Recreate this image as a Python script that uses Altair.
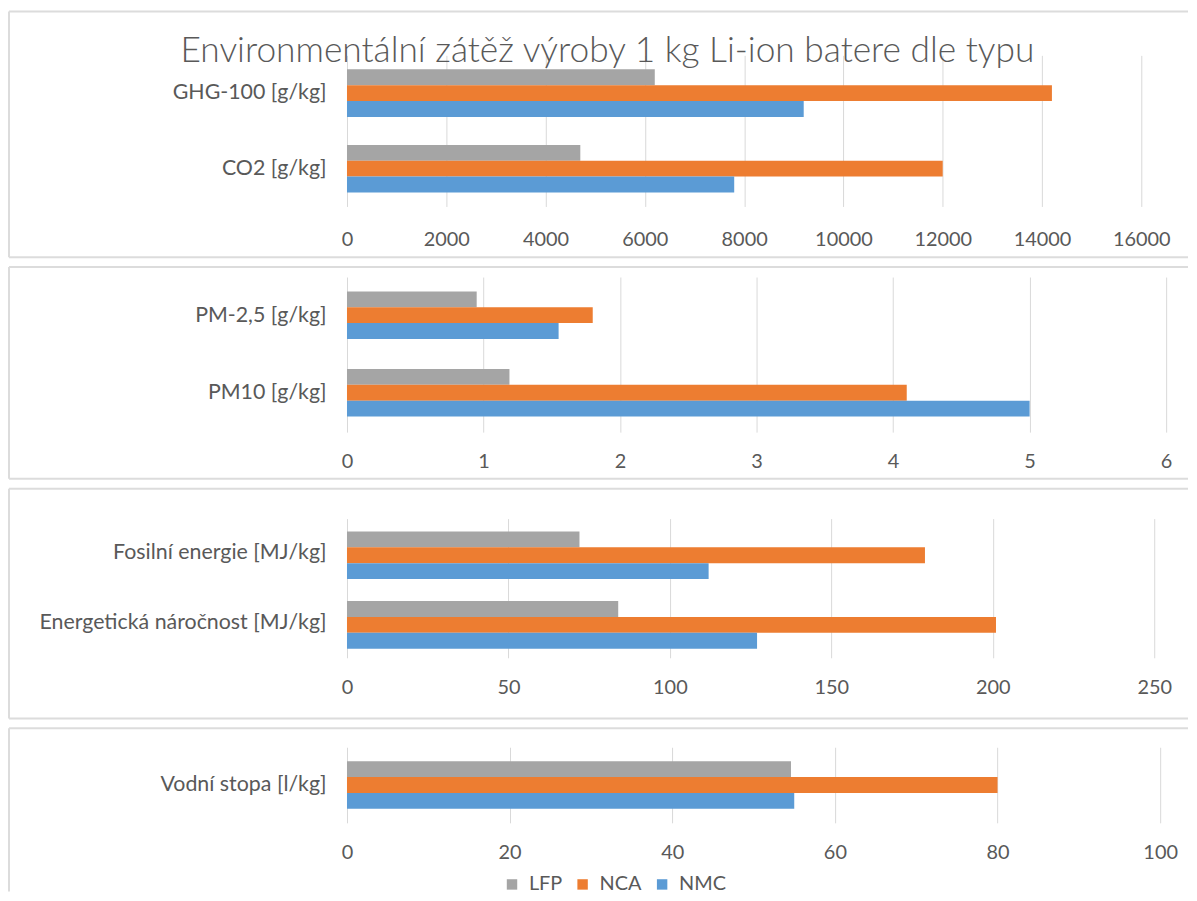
import altair as alt
import pandas as pd

series = ["LFP", "NCA", "NMC"]
colors = ["#A5A5A5", "#ED7D31", "#5B9BD5"]

cat1 = ["GHG-100 [g/kg]", "CO2 [g/kg]"]
lfp1 = [6200, 4700]
nca1 = [14200, 12000]
nmc1 = [9200, 7800]
ticks1 = [0, 2000, 4000, 6000, 8000, 10000, 12000, 14000, 16000]

cat2 = ["PM-2,5 [g/kg]", "PM10 [g/kg]"]
lfp2 = [0.95, 1.19]
nca2 = [1.8, 4.1]
nmc2 = [1.55, 5.0]
ticks2 = [0, 1, 2, 3, 4, 5, 6]

cat3 = ["Fosilní energie [MJ/kg]", "Energetická náročnost [MJ/kg]"]
lfp3 = [72, 84]
nca3 = [179, 201]
nmc3 = [112, 127]
ticks3 = [0, 50, 100, 150, 200, 250]

cat4 = ["Vodní stopa [l/kg]"]
lfp4 = [54.6]
nca4 = [80]
nmc4 = [55]
ticks4 = [0, 20, 40, 60, 80, 100]

title_text = "Environmentální zátěž výroby 1 kg  Li-ion batere dle typu"

TEXT = "#595959"
FRAME = "#dcdcdc"
FONT = "Lato"
LEFT = -340


def frame_layers(left, top, bottom, right, draw_bottom=True):
    one = pd.DataFrame({"k": [0]})
    base = alt.Chart(one).mark_rule(color=FRAME, strokeWidth=2)
    layers = [
        base.encode(x=alt.value(left), x2=alt.value(right), y=alt.value(top), y2=alt.value(top)),
        base.encode(x=alt.value(left), x2=alt.value(left), y=alt.value(top), y2=alt.value(bottom)),
    ]
    if draw_bottom:
        layers.append(base.encode(x=alt.value(left), x2=alt.value(right), y=alt.value(bottom), y2=alt.value(bottom)))
    return layers


def panel(cats, lfp, nca, nmc, ticks, width, height, frame, legend=False, extra=None, xpad=20):
    rows = []
    for i, c in enumerate(cats):
        rows.append({"category": c, "series": "LFP", "value": lfp[i]})
        rows.append({"category": c, "series": "NCA", "value": nca[i]})
        rows.append({"category": c, "series": "NMC", "value": nmc[i]})
    df = pd.DataFrame(rows)
    if legend:
        leg = alt.Legend(
            title=None, orient="none", direction="horizontal",
            legendX=legend[0], legendY=legend[1],
            symbolType="square", symbolSize=110, symbolStrokeWidth=0,
            labelFont=FONT, labelFontSize=20, labelColor=TEXT,
            labelOffset=7, columnPadding=10,
        )
    else:
        leg = None
    bars = alt.Chart(df).mark_bar().encode(
        x=alt.X("value:Q", scale=alt.Scale(domain=[ticks[0], ticks[-1]], nice=False),
                axis=alt.Axis(values=ticks, title=None, format="d", labelPadding=xpad,
                              labelFlush=False, labelOverlap=False,
                              grid=True, gridColor="#d9d9d9", gridWidth=1)),
        y=alt.Y("category:N", sort=cats,
                scale=alt.Scale(paddingInner=0.37, paddingOuter=0.185),
                axis=alt.Axis(title=None, labelPadding=21, labelLimit=0, labelFontSize=21.5,
                              grid=False)),
        yOffset=alt.YOffset("series:N", sort=series),
        color=alt.Color("series:N", scale=alt.Scale(domain=series, range=colors), legend=leg),
    ).properties(width=width, height=height)
    layers = [bars] + frame_layers(*frame)
    if extra is not None:
        layers.append(extra)
    return alt.layer(*layers)


title_mark = alt.Chart(pd.DataFrame({"k": [0]})).mark_text(
    font=FONT, fontSize=35.5, fontWeight=300, color=TEXT, align="center", baseline="alphabetic"
).encode(x=alt.value(262), y=alt.value(7), text=alt.value(title_text))

p1 = panel(cat1, lfp1, nca1, nmc1, ticks1, 799, 152, (LEFT, -44, 203, 846), extra=title_mark, xpad=23)
p2 = panel(cat2, lfp2, nca2, nmc2, ticks2, 824, 156, (LEFT, -10, 203, 846))
p3 = panel(cat3, lfp3, nca3, nmc3, ticks3, 812, 140, (LEFT, -30, 201, 846))
p4 = panel(cat4, lfp4, nca4, nmc4, ticks4, 818, 76, (LEFT, -19, 145, 846, False),
           legend=(156, 128))

chart = alt.vconcat(p1, p2, p3, p4, spacing=8).resolve_legend(color="independent").properties(
    padding=0, background="white"
).configure_view(stroke=None).configure_axis(
    labelFont=FONT, labelFontSize=20, labelColor=TEXT, domain=False, ticks=False
)

chart.save("out.html", embed_options={"renderer": "svg", "actions": False})
